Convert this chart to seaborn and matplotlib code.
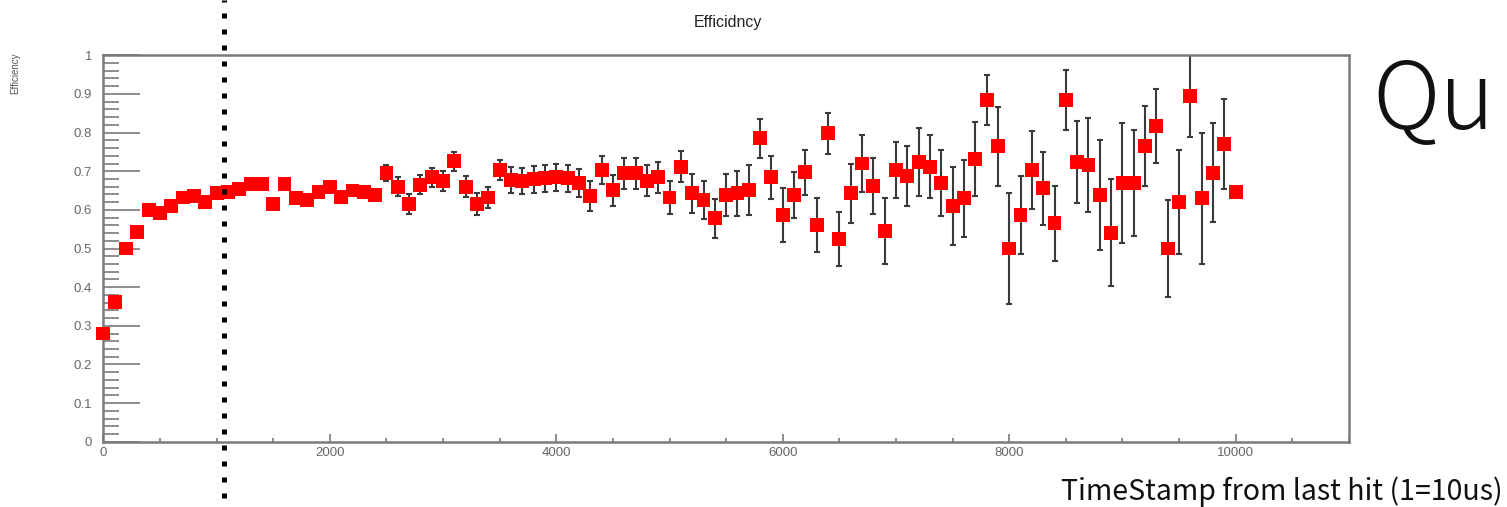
import numpy as np
import pandas as pd
import seaborn as sns
import matplotlib.pyplot as plt
from matplotlib.lines import Line2D
from matplotlib.ticker import MultipleLocator, FormatStrFormatter

sns.set_style("white")
plt.rcParams['font.family'] = ['Liberation Sans', 'DejaVu Sans']

# data
timestamp = [
    0, 100, 200, 300, 400, 500, 600, 700, 800, 900,
    1000, 1100, 1200, 1300, 1400, 1500, 1600, 1700, 1800, 1900,
    2000, 2100, 2200, 2300, 2400, 2500, 2600, 2700, 2800, 2900,
    3000, 3100, 3200, 3300, 3400, 3500, 3600, 3700, 3800, 3900,
    4000, 4100, 4200, 4300, 4400, 4500, 4600, 4700, 4800, 4900,
    5000, 5100, 5200, 5300, 5400, 5500, 5600, 5700, 5800, 5900,
    6000, 6100, 6200, 6300, 6400, 6500, 6600, 6700, 6800, 6900,
    7000, 7100, 7200, 7300, 7400, 7500, 7600, 7700, 7800, 7900,
    8000, 8100, 8200, 8300, 8400, 8500, 8600, 8700, 8800, 8900,
    9000, 9100, 9200, 9300, 9400, 9500, 9600, 9700, 9800, 9900,
    10000,
]
efficiency = [
    0.28, 0.362, 0.50, 0.542, 0.60, 0.593, 0.61, 0.632, 0.636, 0.621,
    0.644, 0.647, 0.653, 0.666, 0.666, 0.615, 0.666, 0.63, 0.626, 0.647,
    0.66, 0.634, 0.65, 0.646, 0.638, 0.695, 0.66, 0.615, 0.665, 0.684,
    0.675, 0.726, 0.66, 0.615, 0.632, 0.703, 0.677, 0.675, 0.679, 0.682,
    0.684, 0.682, 0.67, 0.636, 0.703, 0.651, 0.695, 0.695, 0.675, 0.684,
    0.632, 0.712, 0.643, 0.626, 0.578, 0.638, 0.643, 0.651, 0.785, 0.684,
    0.587, 0.638, 0.697, 0.561, 0.798, 0.524, 0.643, 0.72, 0.662, 0.546,
    0.703, 0.688, 0.725, 0.712, 0.67, 0.61, 0.63, 0.731, 0.884, 0.765,
    0.50, 0.587, 0.703, 0.656, 0.565, 0.884, 0.725, 0.716, 0.638, 0.541,
    0.669, 0.669, 0.765, 0.817, 0.50, 0.62, 0.895, 0.63, 0.696, 0.770,
    0.647,
]
error = [
    0.008, 0.008, 0.008, 0.008, 0.008, 0.008, 0.008, 0.008, 0.008, 0.008,
    0.012, 0.012, 0.012, 0.012, 0.012, 0.012, 0.012, 0.012, 0.012, 0.012,
    0.015, 0.015, 0.015, 0.015, 0.015, 0.02, 0.025, 0.025, 0.025, 0.025,
    0.025, 0.025, 0.027, 0.029, 0.028, 0.025, 0.033, 0.033, 0.035, 0.035,
    0.035, 0.035, 0.036, 0.04, 0.037, 0.04, 0.04, 0.04, 0.04, 0.04,
    0.043, 0.04, 0.05, 0.05, 0.05, 0.055, 0.058, 0.065, 0.05, 0.055,
    0.07, 0.06, 0.058, 0.069, 0.053, 0.07, 0.076, 0.073, 0.072, 0.085,
    0.073, 0.078, 0.088, 0.081, 0.086, 0.10, 0.10, 0.096, 0.064, 0.102,
    0.144, 0.10, 0.10, 0.095, 0.097, 0.078, 0.106, 0.122, 0.143, 0.138,
    0.156, 0.137, 0.104, 0.096, 0.125, 0.134, 0.106, 0.17, 0.128, 0.116,
    0.01,
]

df = pd.DataFrame({'TimeStamp': timestamp, 'Efficiency': efficiency, 'err': error})

fig = plt.figure(figsize=(15.07, 5.07), dpi=100)
ax = fig.add_axes([0.0686, 0.1288, 0.8265, 0.7621])

# error bars then the red squares on top
ax.errorbar(df['TimeStamp'], df['Efficiency'], yerr=df['err'], fmt='none',
            ecolor='#3a3a3a', elinewidth=1.5, capsize=2, capthick=1.5, zorder=2)
sns.scatterplot(data=df, x='TimeStamp', y='Efficiency', marker='s', s=100,
                color='#ff0000', edgecolor='none', linewidth=0, ax=ax, zorder=3,
                clip_on=False)

ax.set_xlim(0, 11000)
ax.set_ylim(0, 1)
ax.set_xlabel('')
ax.set_ylabel('')

gray = '#7a7a7a'
for sp in ax.spines.values():
    sp.set_color(gray)
    sp.set_linewidth(1.8)

ax.xaxis.set_major_locator(MultipleLocator(2000))
ax.xaxis.set_minor_locator(MultipleLocator(500))
ax.yaxis.set_major_locator(MultipleLocator(0.1))
ax.yaxis.set_minor_locator(MultipleLocator(0.02))
ax.yaxis.set_major_formatter(FormatStrFormatter('%g'))

ax.tick_params(which='both', bottom=True, left=True, top=False, right=False)
ax.tick_params(axis='x', which='major', direction='in', length=6, width=1.2,
               color=gray, labelsize=9.5, labelcolor='#666666', pad=4)
ax.tick_params(axis='x', which='minor', direction='in', length=3, width=1.2, color=gray)
ax.tick_params(axis='y', which='major', direction='in', length=26.5, width=1.2,
               color=gray, labelsize=9.5, labelcolor='#666666', pad=8)
ax.tick_params(axis='y', which='minor', direction='in', length=11.5, width=1.2, color=gray)

# title and axis titles placed like the ROOT canvas
fig.text(728 / 1507, 1 - 22 / 507, 'Efficidncy', ha='center', va='center',
         fontsize=11.5, color='#222222')
fig.text(15 / 1507, 1 - 53 / 507, 'Efficiency', rotation=90, ha='center', va='top',
         fontsize=7, color='#555555')
fig.text(1503 / 1507, 1 - 500 / 507, 'TimeStamp from last hit (1=10us)', ha='right',
         va='baseline', fontsize=20.5, color='#111111',
         family=['Noto Sans CJK JP', 'DejaVu Sans'])
fig.text(1372 / 1507, 1 - 129 / 507, 'Qu', ha='left', va='baseline', fontsize=67,
         color='#111111', family=['Noto Sans CJK JP', 'DejaVu Sans'], fontweight='light')

# dotted vertical marker across the whole canvas
fig.add_artist(Line2D([224 / 1507, 224 / 1507], [1.0, 0.0], transform=fig.transFigure,
                      color='black', linewidth=3.6, linestyle=(0.6, (1, 2.2)),
                      dash_capstyle='butt', zorder=5))

fig.savefig('out.png', dpi=100)
